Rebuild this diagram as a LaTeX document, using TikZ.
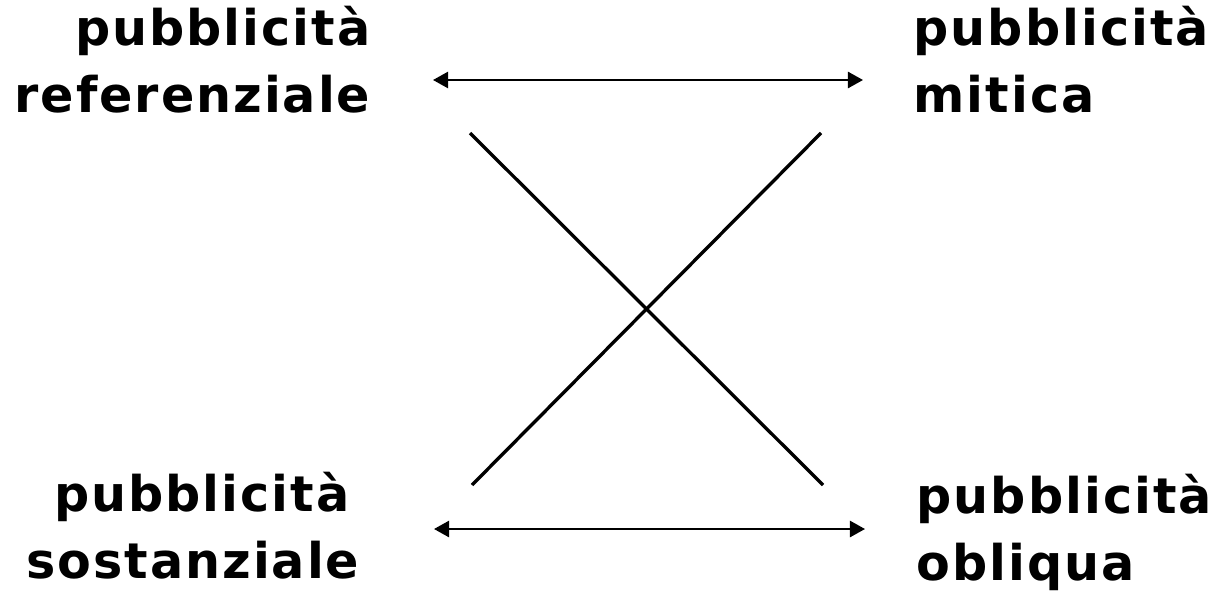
\documentclass[tikz,border=0pt]{standalone}
\usepackage{fontspec}
\setmainfont{DejaVu Sans}
\newfontfamily\termfont[LetterSpace=4]{DejaVu Sans}
\usepackage{tikz}
\usetikzlibrary{arrows.meta}
\pgfdeclarelayer{edgelayer}
\pgfdeclarelayer{nodelayer}
\pgfsetlayers{edgelayer,nodelayer,main}
\tikzstyle{term}=[inner sep=0pt, font=\fontsize{14pt}{19.2pt}\termfont\bfseries]
\tikzstyle{edge}=[draw=black, line width=0.95pt]
\tikzstyle{link}=[draw=black, line width=0.65pt, {Triangle[length=4.3pt,width=4.6pt]}-{Triangle[length=4.3pt,width=4.6pt]}]

\begin{document}
\begin{tikzpicture}
			\useasboundingbox (0, 0) rectangle (12.19, 5.94);
			\begin{pgfonlayer}{nodelayer}
				\node [style=term, anchor=north east, align=right] (0) at (3.71, 5.889) {pubblicità\\referenziale};
				\node [style=term, anchor=north west, align=left] (1) at (9.13, 5.889) {pubblicità\\mitica};
				\node [style=term, anchor=north east, align=right] (2) at (3.60, 1.23) {pubblicità\hspace*{0.1cm}\\sostanziale};
				\node [style=term, anchor=north west, align=left] (3) at (9.16, 1.21) {pubblicità\\obliqua};
				\coordinate (a0) at (4.33, 5.14);
				\coordinate (a1) at (8.63, 5.14);
				\coordinate (a2) at (4.34, 0.65);
				\coordinate (a3) at (8.65, 0.65);
				\coordinate (x0) at (4.70, 4.61);
				\coordinate (x1) at (8.21, 4.61);
				\coordinate (x2) at (4.72, 1.09);
				\coordinate (x3) at (8.23, 1.09);
			\end{pgfonlayer}
			\begin{pgfonlayer}{edgelayer}
				\draw [style=link] (a0) to (a1);
				\draw [style=link] (a2) to (a3);
				\draw [style=edge] (x0) to (x3);
				\draw [style=edge] (x1) to (x2);
			\end{pgfonlayer}
		\end{tikzpicture}
\end{document}
